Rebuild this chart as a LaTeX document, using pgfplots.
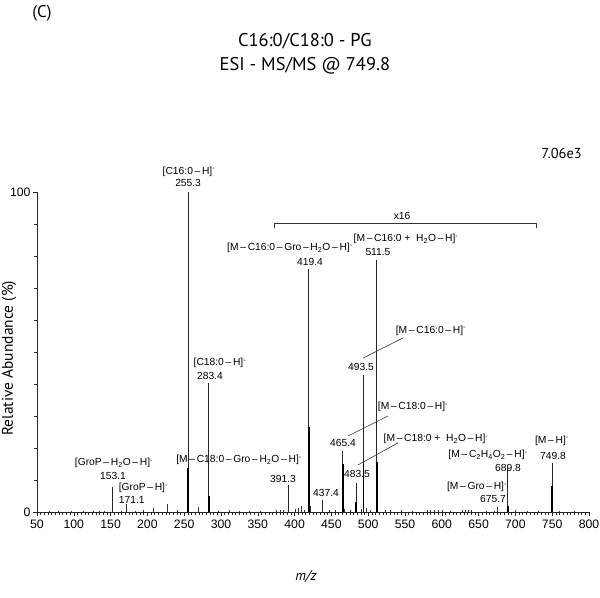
\documentclass[border=0pt]{standalone}
\usepackage{fontspec}
\setmainfont{Liberation Sans}
\newfontfamily\headfont{PT Sans}
\usepackage{pgfplots}
\pgfplotsset{compat=1.18}

\newcommand{\ion}[1]{#1\textsuperscript{-}}
\newcommand{\m}{\,–\,}
\tikzset{lbl/.style={font=\fontsize{10.3}{12}\selectfont, inner sep=0pt},
         hd/.style={inner sep=0pt}}

\begin{document}
\begin{tikzpicture}
\path[use as bounding box] (-37bp,-86bp) rectangle (563bp,512bp);
\begin{axis}[at={(0bp,0bp)}, anchor=south west,
             scale only axis, width=552bp, height=320bp,
             axis lines*=left,
             axis line style={black!85, line width=0.8pt},
             xmin=50, xmax=800, ymin=0, ymax=100,
             enlargelimits=false,
             xtick={50,100,...,800},
             ytick={0,100},
             minor x tick num=9,
             minor y tick num=9,
             tick align=outside,
             major tick length=4bp,
             minor tick length=2.5bp,
             tick style={black!85, line width=0.6pt},
             /pgf/number format/assume math mode=true,
             ticklabel style={font=\fontsize{12.3}{14}\selectfont},
             yticklabel style={xshift=1bp},
             clip=false]

% baseline noise and minor fragments
\addplot[ycomb, black!80, line width=0.6pt, mark=none] coordinates {
 (67,0.3) (79,0.3) (97,0.4) (113,0.3) (127,0.3) (135,0.4) (141,0.3)
 (165,0.4) (183,0.4) (195,0.5) (208,1.2) (227.2,2.5) (241,0.6)
 (269,1.5) (297,0.4) (311,0.5) (325,0.4) (339,0.3) (353,0.4)
 (375,0.6) (380,0.7) (385,0.6) (401,0.8) (405,1.2) (409,1.8) (413,0.6)
 (421,2.0) (447,0.5) (455,0.6) (467,1.0) (475,0.5) (491,0.8) (497,1.2)
 (503,0.6) (513,1.2) (523,0.5) (530,0.5) (545,0.6) (560,0.4) (580,0.5)
 (585,0.7) (590,0.6) (595,0.7) (600,0.5) (612,0.4) (628,0.7) (632,0.7)
 (636,0.6) (640,0.5) (660,0.4) (671,0.4) (691,2.0) (700,0.6) (716,0.4)
 (731,0.4) (760,0.3) (780,0.3)
};

% main peaks
\addplot[ycomb, black!85, line width=0.8pt, mark=none] coordinates {
 (153.1,7.7) (171.1,2.6) (255.3,100) (283.4,40.2) (391.3,8.4)
 (419.4,76) (437.4,3.75) (465.4,19.2) (483.5,9) (493.5,42.8)
 (511.5,78.7) (675.7,1.7) (689.8,13.9) (749.8,15.2)
};

% broader bases of the strong peaks
\addplot[ycomb, black, line width=1.7pt, mark=none] coordinates {
 (255.3,13.7) (283.4,5) (419.4,26.5) (465.4,15) (483.5,3)
 (493.5,15) (511.5,15.7) (689.8,2) (749.8,8)
};

% x16 bracket
\draw[black!80, line width=0.7pt] (axis cs:372,88.75) -- (axis cs:372,90.3)
      -- (axis cs:728,90.3) -- (axis cs:728,88.75);
\node[lbl] at (axis cs:546,92.4) {x16};

% peak annotations
\node[lbl] at (axis cs:256.5,106.4) {\ion{[C16:0\m H]}};
\node[lbl] at (axis cs:255.3,102.8) {255.3};
\node[lbl] at (axis cs:298.6,46.5) {\ion{[C18:0\m H]}};
\node[lbl] at (axis cs:285,42.5) {283.4};
\node[lbl] at (axis cs:324.5,16.25) {\ion{[M\m C18:0\m Gro\m H\textsubscript{2}O\m H]}};
\node[lbl] at (axis cs:154.6,15.3) {\ion{[GroP\m H\textsubscript{2}O\m H]}};
\node[lbl] at (axis cs:153.3,11.25) {153.1};
\node[lbl, anchor=west] at (axis cs:161,7.5) {\ion{[GroP\m H]}};
\node[lbl, anchor=west] at (axis cs:161,3.75) {171.1};
\node[lbl] at (axis cs:384.2,10.3) {391.3};
\node[lbl] at (axis cs:442.7,5.9) {437.4};
\node[lbl] at (axis cs:465.8,21.5) {465.4};
\node[lbl] at (axis cs:484.8,11.9) {483.5};
\node[lbl] at (axis cs:490.2,45.3) {493.5};
\node[lbl] at (axis cs:585.3,56.6) {\ion{[M\m C16:0\m H]}};
\node[lbl] at (axis cs:560.9,32.8) {\ion{[M\m C18:0\m H]}};
\node[lbl] at (axis cs:592.1,22.8) {\ion{[M\m C18:0 +\ \ H\textsubscript{2}O\m H]}};
\node[lbl] at (axis cs:662.8,17.8) {\ion{[M\m C\textsubscript{2}H\textsubscript{4}O\textsubscript{2}\m H]}};
\node[lbl] at (axis cs:690,13.75) {689.8};
\node[lbl] at (axis cs:647.8,7.8) {\ion{[M\m Gro\m H]}};
\node[lbl] at (axis cs:669.6,4) {675.7};
\node[lbl] at (axis cs:749.7,22.2) {\ion{[M\m H]}};
\node[lbl] at (axis cs:751,17.5) {749.8};
\node[lbl] at (axis cs:393.7,82.5) {\ion{[M\m C16:0\m Gro\m H\textsubscript{2}O\m H]}};
\node[lbl] at (axis cs:420.9,78) {419.4};
\node[lbl] at (axis cs:551.4,85.3) {\ion{[M\m C16:0 +\ \ H\textsubscript{2}O\m H]}};
\node[lbl] at (axis cs:513.3,81.3) {511.5};

% leader lines
\draw[black!80, line width=0.6pt] (axis cs:493,48.1) -- (axis cs:547.3,54.4);
\draw[black!80, line width=0.6pt] (axis cs:472.6,23.75) -- (axis cs:526.9,30);
\draw[black!80, line width=0.6pt] (axis cs:486.1,14.7) -- (axis cs:540.5,21.6);

% titles and axis labels
\node[hd, font=\headfont\fontsize{18.5}{24}\selectfont, align=center]
     at (axis cs:414,143.3) {C16:0/C18:0 - PG\\ESI - MS/MS @ 749.8};
\node[hd, font=\headfont\fontsize{17}{20}\selectfont] at (axis cs:56.8,155.9) {(C)};
\node[hd, font=\headfont\fontsize{14.5}{17}\selectfont, anchor=east] at (axis cs:790.5,112.2) {7.06e3};
\node[hd, font=\headfont\fontsize{15.5}{18}\selectfont, rotate=90] at (axis cs:12,48.1) {Relative Abundance (\%)};
\node[hd, font=\headfont\itshape\fontsize{14}{17}\selectfont] at (axis cs:415.5,-20.3) {m/z};
\end{axis}
\end{tikzpicture}
\end{document}
